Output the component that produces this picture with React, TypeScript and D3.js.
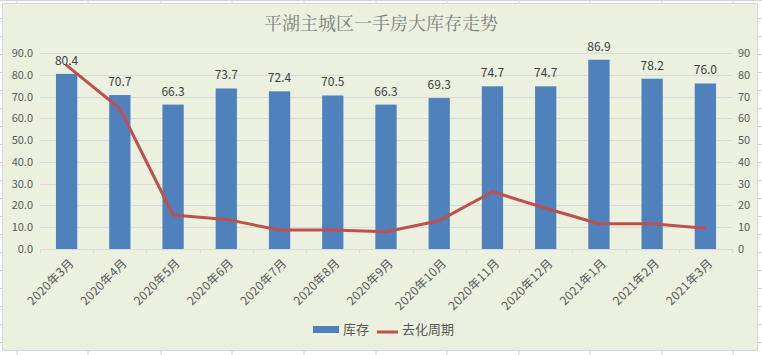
import React from "react";
import * as d3 from "d3";

const categories = ["2020年3月","2020年4月","2020年5月","2020年6月","2020年7月","2020年8月","2020年9月","2020年10月","2020年11月","2020年12月","2021年1月","2021年2月","2021年3月"];
const inventory = [80.4,70.7,66.3,73.7,72.4,70.5,66.3,69.3,74.7,74.7,86.9,78.2,76.0];
const cycle = [84.3,64.5,15.6,13.6,8.7,8.7,7.9,13.0,26.3,18.7,11.6,11.6,9.5];
const leftTicks = [0,10,20,30,40,50,60,70,80,90];
const title = "平湖主城区一手房大库存走势";
const seriesNames = ["库存","去化周期"];

const W = 762, H = 355;
const plot = { left: 40, right: 732, top: 53, bottom: 249 };
const font = "'Microsoft YaHei','Noto Sans CJK SC','Noto Sans',sans-serif";

export default function App() {
  const x = d3.scaleBand<string>().domain(categories).range([plot.left, plot.right]).paddingInner(0.6).paddingOuter(0.3);
  const xb = d3.scaleBand<string>().domain(categories).range([plot.left, plot.right]);
  const yL = d3.scaleLinear().domain([0, 90]).range([plot.bottom, plot.top]);
  const yR = d3.scaleLinear().domain([0, 90]).range([plot.bottom, plot.top]);
  const line = d3.line<number>().x((_, i) => (xb(categories[i]) as number) + xb.bandwidth() / 2).y(d => yR(d));

  const tickXs = d3.range(categories.length + 1).map(i => plot.left + i * xb.bandwidth());
  const colLines = [17, 88, 161, 232, 304, 376, 447, 519, 590, 662, 733];

  return (
    <svg width={W} height={H} style={{ position: "absolute", left: 0, top: 0 }} fontFamily={font}>
      <rect x={0} y={0} width={W} height={H} fill="#ffffff" />
      {colLines.map((cx, i) => (
        <line key={"c" + i} x1={cx} x2={cx} y1={0} y2={H} stroke="#D4D4D4" strokeWidth={1} />
      ))}
      {d3.range(0, H, 18).map((ry, i) => (
        <line key={"r" + i} x1={0} x2={W} y1={ry + 0.5} y2={ry + 0.5} stroke="#D4D4D4" strokeWidth={1} />
      ))}
      <rect x={2.5} y={3.5} width={755} height={347} fill="#EBF1DE" stroke="#D9D9D9" strokeWidth={1} />
      <text x={381} y={30} textAnchor="middle" fontSize={18} fill="#7F7F7F" fontFamily="'Noto Serif CJK SC','SimSun',serif">{title}</text>

      {leftTicks.map(t => (
        <line key={"g" + t} x1={plot.left} x2={plot.right} y1={Math.round(yL(t)) + 0.5} y2={Math.round(yL(t)) + 0.5} stroke="#D9D9D9" strokeWidth={1} />
      ))}
      {tickXs.map((tx, i) => (
        <line key={"t" + i} x1={Math.round(tx) + 0.5} x2={Math.round(tx) + 0.5} y1={plot.bottom} y2={plot.bottom + 4} stroke="#D9D9D9" strokeWidth={1} />
      ))}

      {leftTicks.map(t => (
        <text key={"l" + t} x={33} y={yL(t) + 4} textAnchor="end" fontSize={11} fill="#595959">{t.toFixed(1)}</text>
      ))}
      {leftTicks.map(t => (
        <text key={"r" + t} x={738} y={yR(t) + 4} textAnchor="start" fontSize={11} fill="#595959">{t}</text>
      ))}

      {inventory.map((v, i) => (
        <rect key={"b" + i} x={x(categories[i])} y={yL(v)} width={x.bandwidth()} height={plot.bottom - yL(v)} fill="#4F81BD" />
      ))}
      {inventory.map((v, i) => (
        <text key={"v" + i} x={(x(categories[i]) as number) + x.bandwidth() / 2} y={yL(v) - 9} textAnchor="middle" fontSize={12} fill="#404040">{v.toFixed(1)}</text>
      ))}

      <path d={line(cycle) as string} fill="none" stroke="#C0504D" strokeWidth={3} strokeLinejoin="round" strokeLinecap="round" />

      {categories.map((c, i) => {
        const cx = (xb(c) as number) + xb.bandwidth() / 2 + 5;
        const cy = plot.bottom + 12;
        return (
          <text key={"x" + i} transform={`translate(${cx},${cy}) rotate(-45)`} textAnchor="end" fontSize={12} letterSpacing={0.3} fill="#595959" dy="0.35em">{c}</text>
        );
      })}

      <rect x={313} y={326} width={26} height={7} fill="#4F81BD" />
      <text x={343} y={334} fontSize={13} fill="#595959">{seriesNames[0]}</text>
      <line x1={377} x2={398} y1={332} y2={332} stroke="#C0504D" strokeWidth={3} />
      <text x={402} y={334} fontSize={13} fill="#595959">{seriesNames[1]}</text>
    </svg>
  );
}
